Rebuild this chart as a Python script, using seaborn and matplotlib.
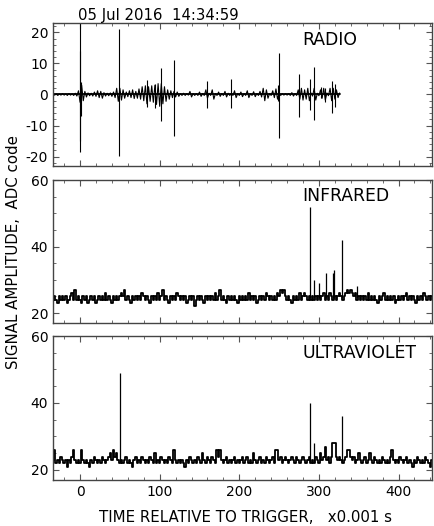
import numpy as np
import pandas as pd
import matplotlib
matplotlib.use("Agg")
import matplotlib.pyplot as plt
import seaborn as sns
from matplotlib.ticker import MultipleLocator

# --- Data ---
TITLE = "05 Jul 2016  14:34:59"
T0 = -34        # first sample, ms
DT = 2          # sample step, ms

# radio trace, one sample every 2 ms from -34 to 326 ms
RADIO = [
    0.3, -0.2, 0.2, -0.3, 0.2, -0.2, 0.3, -0.2, 0.2, -0.3, 0.3, -0.2, 0.2, -0.3, 0.4, -0.5,
    1.2, -2.5, 3.0, -2.0, 1.0, -0.8, 0.5, -0.4, 0.4, -0.5, 0.8, -0.6, 1.2, -1.0, 1.0, -1.2,
    0.6, -0.5, 0.4, -0.4, 0.5, -0.6, 0.8, -1.0, 2.0, -2.2, 2.0, -1.8, 1.5, -1.2, 0.8, -0.7,
    1.2, -1.0, 1.5, -1.3, 1.0, -1.2, 1.8, -1.5, 2.5, -2.0, 2.8, -3.0, 2.5, -2.2, 2.8, -2.5,
    3.0, -3.2, 3.5, -3.8, 3.5, -3.0, 2.5, -2.2, 1.5, -1.5, 1.2, -1.0, 1.0, -0.8, 0.8, -0.6,
    0.3, -0.3, 0.4, -0.3, 0.3, -0.2, 1.0, -0.8, 0.3, -0.3, 0.3, -0.3, 0.8, -0.6, 0.3, -0.3,
    1.5, -1.2, 0.4, -0.3, 1.5, -1.5, 0.3, -0.3, 0.8, -0.6, 0.3, -0.3, 1.0, -0.8, 0.4, -0.3,
    0.3, -0.3, 1.2, -1.0, 0.3, -0.3, 0.8, -0.7, 0.3, -0.3, 1.2, -1.0, 0.3, -0.3, 0.9, -0.7,
    0.3, -0.3, 1.0, -0.8, 2.0, -2.0, 1.5, -1.2, 0.3, -0.3, 1.2, -1.0, 1.8, -1.5, 0.5, -0.3,
    0.3, -0.2, 0.3, -0.2, 0.3, -0.3, 0.6, -0.5, 0.3, -0.3, 1.5, -1.5, 2.0, -1.8, 1.5, -1.5,
    2.0, -2.0, 0.5, -0.5, 2.0, -1.8, 0.4, -0.4, 1.5, -1.2, 2.0, -1.8, 0.5, -0.4, 2.0, -2.0,
    2.0, -1.5, 1.5, -1.0, 0.5,
]
# radio spikes: time (ms), top, bottom
RADIO_SPIKE_T = [-0.6, 0.3, 1.2, 49, 84, 94, 102, 118, 159, 189, 248, 250, 275, 289, 294, 303, 307, 317, 320]
RADIO_SPIKE_HI = [23.5, 14, 4, 21, 4.6, 3.5, 8.6, 11, 4.3, 5.1, 3, 13.5, 6.5, 5, 8.7, 2.5, 2, 4.3, 3.5]
RADIO_SPIKE_LO = [-18.5, -15, -7, -19.7, -4, -4.5, -8.5, -13.4, -4.5, -4.3, -2, -14, -7.2, -5, -8.3, -1, -2.5, -6, -4]

# infrared trace, one sample every 2 ms from -34 to 444 ms
INFRARED = [
    24, 25, 24, 23, 25, 24, 25, 24, 25, 23, 24, 25, 26, 24, 27, 24, 25, 24, 23, 25,
    24, 25, 23, 24, 25, 24, 25, 23, 24, 25, 24, 25, 24, 26, 24, 25, 24, 23, 25, 24,
    25, 24, 25, 26, 25, 27, 24, 25, 24, 23, 25, 24, 25, 24, 25, 24, 26, 25, 24, 25,
    24, 23, 25, 24, 25, 24, 26, 24, 25, 27, 24, 25, 24, 23, 25, 24, 25, 24, 26, 25,
    24, 25, 24, 25, 23, 24, 25, 24, 25, 22, 24, 25, 24, 25, 24, 23, 25, 24, 25, 24,
    25, 24, 26, 24, 25, 27, 24, 25, 24, 23, 25, 24, 25, 24, 25, 24, 23, 25, 24, 25,
    24, 25, 24, 26, 24, 25, 24, 25, 23, 24, 25, 24, 25, 24, 26, 25, 24, 25, 24, 25,
    24, 26, 25, 27, 26, 27, 25, 24, 25, 24, 23, 25, 24, 25, 24, 26, 24, 25, 26, 25,
    24, 25, 24, 25, 24, 25, 24, 25, 24, 25, 26, 24, 25, 24, 26, 25, 24, 25, 24, 25,
    26, 25, 24, 25, 26, 27, 26, 27, 26, 25, 26, 24, 25, 24, 25, 24, 25, 24, 26, 24,
    25, 24, 25, 24, 23, 25, 24, 25, 26, 24, 25, 24, 25, 24, 25, 23, 24, 25, 24, 25,
    24, 25, 26, 24, 25, 24, 25, 24, 23, 25, 24, 25, 24, 26, 25, 24, 25, 24, 25, 24,
]
IR_BASE = 24.5
IR_SPIKE_T = [289, 294, 299.5, 308.5, 317.5, 319.5, 329, 348]
IR_SPIKE_V = [52, 30, 29, 32, 32, 33, 42, 28]

# ultraviolet trace, one sample every 2 ms from -34 to 444 ms
ULTRAVIOLET = [
    23, 26, 22, 23, 22, 24, 23, 22, 23, 21, 23, 22, 24, 26, 23, 22, 23, 22, 26, 23,
    22, 23, 22, 21, 23, 22, 24, 23, 22, 23, 22, 24, 23, 22, 23, 24, 25, 23, 26, 24,
    25, 23, 22, 23, 22, 23, 24, 22, 23, 22, 21, 23, 24, 22, 23, 22, 24, 23, 22, 23,
    22, 24, 23, 22, 25, 22, 23, 22, 24, 23, 22, 23, 22, 24, 23, 22, 26, 23, 22, 23,
    22, 23, 22, 21, 23, 22, 24, 23, 22, 23, 22, 24, 23, 22, 25, 23, 22, 24, 23, 22,
    24, 23, 22, 26, 24, 26, 23, 22, 23, 24, 22, 23, 22, 23, 24, 22, 23, 22, 23, 24,
    22, 23, 24, 22, 23, 22, 25, 23, 22, 23, 24, 22, 23, 22, 24, 23, 22, 23, 24, 22,
    26, 26, 23, 24, 22, 23, 24, 23, 22, 23, 24, 23, 22, 24, 23, 22, 23, 24, 23, 22,
    23, 24, 22, 23, 22, 24, 23, 22, 25, 23, 24, 27, 23, 24, 22, 24, 28, 28, 24, 23,
    24, 23, 22, 23, 24, 26, 26, 24, 23, 24, 22, 23, 25, 23, 22, 23, 24, 22, 23, 25,
    23, 22, 24, 23, 22, 23, 22, 24, 23, 22, 23, 22, 24, 26, 23, 22, 23, 22, 24, 23,
    22, 23, 24, 22, 23, 22, 21, 23, 22, 24, 23, 22, 23, 22, 24, 23, 22, 21, 23, 22,
]
UV_BASE = 22.5
UV_SPIKE_T = [50, 289, 293.5, 329]
UV_SPIKE_V = [49, 40, 28, 36]

PANEL_NAMES = ["RADIO", "INFRARED", "ULTRAVIOLET"]
PANEL_NAME_Y = [40, 196, 353]   # px from top, centre of the label
# ----------------------------------------

W, H = 434, 526
sns.set_style("ticks")
plt.rcParams["font.family"] = ["DejaVu Sans"]
plt.rcParams["axes.unicode_minus"] = False
plt.rcParams["text.color"] = "black"
plt.rcParams["axes.labelcolor"] = "black"
plt.rcParams["xtick.color"] = "#555555"
plt.rcParams["ytick.color"] = "#555555"
plt.rcParams["xtick.labelcolor"] = "black"
plt.rcParams["ytick.labelcolor"] = "black"

fig = plt.figure(figsize=(W / 100, H / 100), dpi=100)


def box(top, bottom, left=53, right=432):
    return [left / W, 1 - bottom / H, (right - left) / W, (bottom - top) / H]


ax1 = fig.add_axes(box(23, 166))
ax2 = fig.add_axes(box(180, 323))
ax3 = fig.add_axes(box(336, 480))

t_radio = T0 + DT * np.arange(len(RADIO))
t_ir = T0 + DT * np.arange(len(INFRARED))
t_uv = T0 + DT * np.arange(len(ULTRAVIOLET))

# radio: noise trace + spikes
sns.lineplot(x=t_radio, y=RADIO, ax=ax1, color="k", lw=0.8, estimator=None)
ax1.vlines(RADIO_SPIKE_T, RADIO_SPIKE_LO, RADIO_SPIKE_HI, color="k", lw=0.8)
ax1.axhline(0, xmin=0, xmax=(326 + 34) / (442 + 34), color="k", lw=1.3)

# infrared / ultraviolet: stepped noise band + spikes
sns.lineplot(x=t_ir, y=INFRARED, ax=ax2, color="k", lw=1.3, estimator=None,
             drawstyle="steps-mid")
ax2.vlines(IR_SPIKE_T, IR_BASE, IR_SPIKE_V, color="k", lw=0.9)
sns.lineplot(x=t_uv, y=ULTRAVIOLET, ax=ax3, color="k", lw=1.3, estimator=None,
             drawstyle="steps-mid")
ax3.vlines(UV_SPIKE_T, UV_BASE, UV_SPIKE_V, color="k", lw=0.9)

for ax, name, ny in zip([ax1, ax2, ax3], PANEL_NAMES, PANEL_NAME_Y):
    ax.set_xlim(-34, 442)
    ax.xaxis.set_major_locator(MultipleLocator(100))
    ax.xaxis.set_minor_locator(MultipleLocator(20))
    ax.tick_params(which="both", direction="in", top=True, right=True,
                   labelsize=10)
    ax.tick_params(which="major", length=4.5, width=0.8)
    ax.tick_params(which="minor", length=2.5, width=0.6)
    for sp in ax.spines.values():
        sp.set_visible(True)
        sp.set_color("#444444")
        sp.set_linewidth(1.0)
    ax.set_xlabel("")
    ax.set_ylabel("")
    fig.text(302 / W, 1 - ny / H, name, fontsize=12.4, va="center")

ax1.set_ylim(-23, 23)
ax1.yaxis.set_major_locator(MultipleLocator(10))
ax1.yaxis.set_minor_locator(MultipleLocator(2))
for ax in (ax2, ax3):
    ax.set_ylim(17, 60)
    ax.yaxis.set_major_locator(MultipleLocator(20))
    ax.yaxis.set_minor_locator(MultipleLocator(5))

ax1.tick_params(labelbottom=False)
ax2.tick_params(labelbottom=False)

fig.text(78 / W, 1 - 20 / H, TITLE, fontsize=10.7)
fig.text(14 / W, 1 - 252 / H, "SIGNAL AMPLITUDE,  ADC code", rotation=90,
         ha="center", va="center", fontsize=10.8)
fig.text(245 / W, 1 - 517 / H, "TIME RELATIVE TO TRIGGER,   x0.001 s",
         ha="center", va="center", fontsize=10.8)

fig.savefig("out.png", dpi=100)
